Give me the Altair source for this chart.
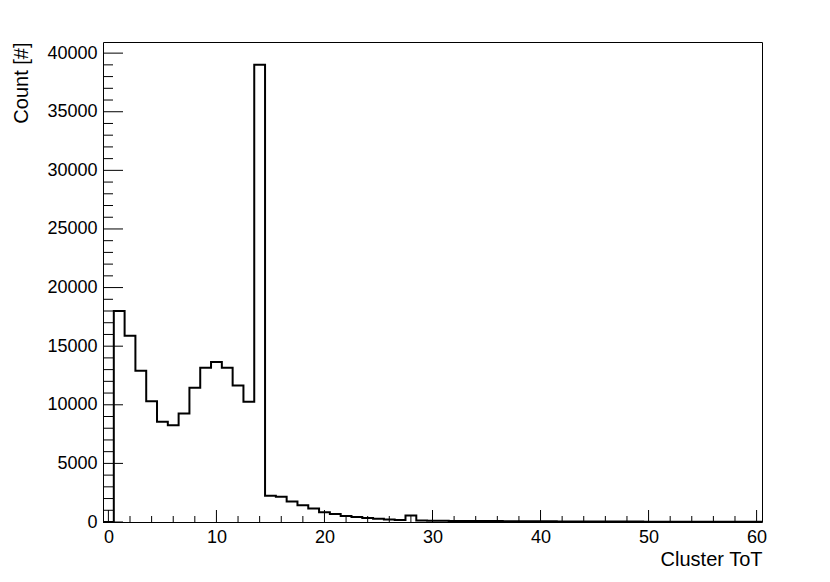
import altair as alt
import pandas as pd

# Histogram: bins of width 1 centred on integers 0..60
bin_centres = list(range(0, 61))
counts = [0, 18000, 15900, 12900, 10300, 8550, 8250, 9250, 11450, 13150,
          13650, 13150, 11650, 10250, 39000, 2250, 2150, 1750, 1420, 1150,
          840, 680, 520, 420, 350, 280, 220, 170, 550, 130,
          110, 100, 95, 90, 85, 80, 75, 70, 66, 62,
          58, 55, 52, 49, 46, 43, 40, 38, 36, 34,
          32, 30, 28, 26, 25, 24, 22, 21, 20, 19, 18]

x_major = [0, 10, 20, 30, 40, 50, 60]
x_minor = [v for v in range(0, 61, 2) if v % 10 != 0]
y_major = list(range(0, 40001, 5000))
y_minor = [v for v in range(0, 41000, 1000) if v % 5000 != 0]

X_MIN, X_MAX = -0.5, 60.5
Y_MAX = 1.05 * max(counts)
W, H = 659, 480
FONT = "Liberation Sans"

edges = [c - 0.5 for c in bin_centres] + [bin_centres[-1] + 0.5]
vals = counts + [counts[-1]]
hist = pd.DataFrame({"edge": edges, "count": vals})

xs = alt.Scale(domain=[X_MIN, X_MAX], nice=False, zero=False)
ys = alt.Scale(domain=[0, Y_MAX], nice=False, zero=True)

line = alt.Chart(hist).mark_line(interpolate="step-after", color="black",
                                 strokeWidth=2).encode(
    x=alt.X("edge:Q", scale=xs,
            axis=alt.Axis(values=x_major, ticks=False, domain=False, grid=False,
                          labelFont=FONT, labelFontSize=18, labelColor="black",
                          labelPadding=6, format="d",
                          title="Cluster ToT", titleFont=FONT, titleFontSize=20,
                          titleFontWeight="normal", titleColor="black",
                          titleAnchor="end", titleAlign="right", titlePadding=3)),
    y=alt.Y("count:Q", scale=ys,
            axis=alt.Axis(values=y_major, ticks=False, domain=False, grid=False,
                          labelFont=FONT, labelFontSize=18, labelColor="black",
                          labelPadding=6, format="d",
                          title="Count [#]", titleFont=FONT, titleFontSize=20,
                          titleFontWeight="normal", titleColor="black",
                          titleAnchor="end", titleAlign="right", titlePadding=15)),
)

xmaj = alt.Chart(pd.DataFrame({"v": x_major})).mark_rule(color="black", strokeWidth=1).encode(
    x=alt.X("v:Q", scale=xs), y=alt.value(H), y2=alt.value(H - 12))
xmin = alt.Chart(pd.DataFrame({"v": x_minor})).mark_rule(color="black", strokeWidth=1).encode(
    x=alt.X("v:Q", scale=xs), y=alt.value(H), y2=alt.value(H - 6))
ymaj = alt.Chart(pd.DataFrame({"v": y_major})).mark_rule(color="black", strokeWidth=1).encode(
    y=alt.Y("v:Q", scale=ys), x=alt.value(0), x2=alt.value(20))
ymin = alt.Chart(pd.DataFrame({"v": y_minor})).mark_rule(color="black", strokeWidth=1).encode(
    y=alt.Y("v:Q", scale=ys), x=alt.value(0), x2=alt.value(10))

chart = alt.layer(xmin, xmaj, ymin, ymaj, line).properties(
    width=W, height=H,
    autosize=alt.AutoSizeParams(type="none"),
    padding={"left": 95, "top": 34, "right": 60, "bottom": 52},
    background="white",
).configure_view(stroke="black", strokeWidth=1)

chart.save("out.html", embed_options={"renderer": "svg", "actions": False})
